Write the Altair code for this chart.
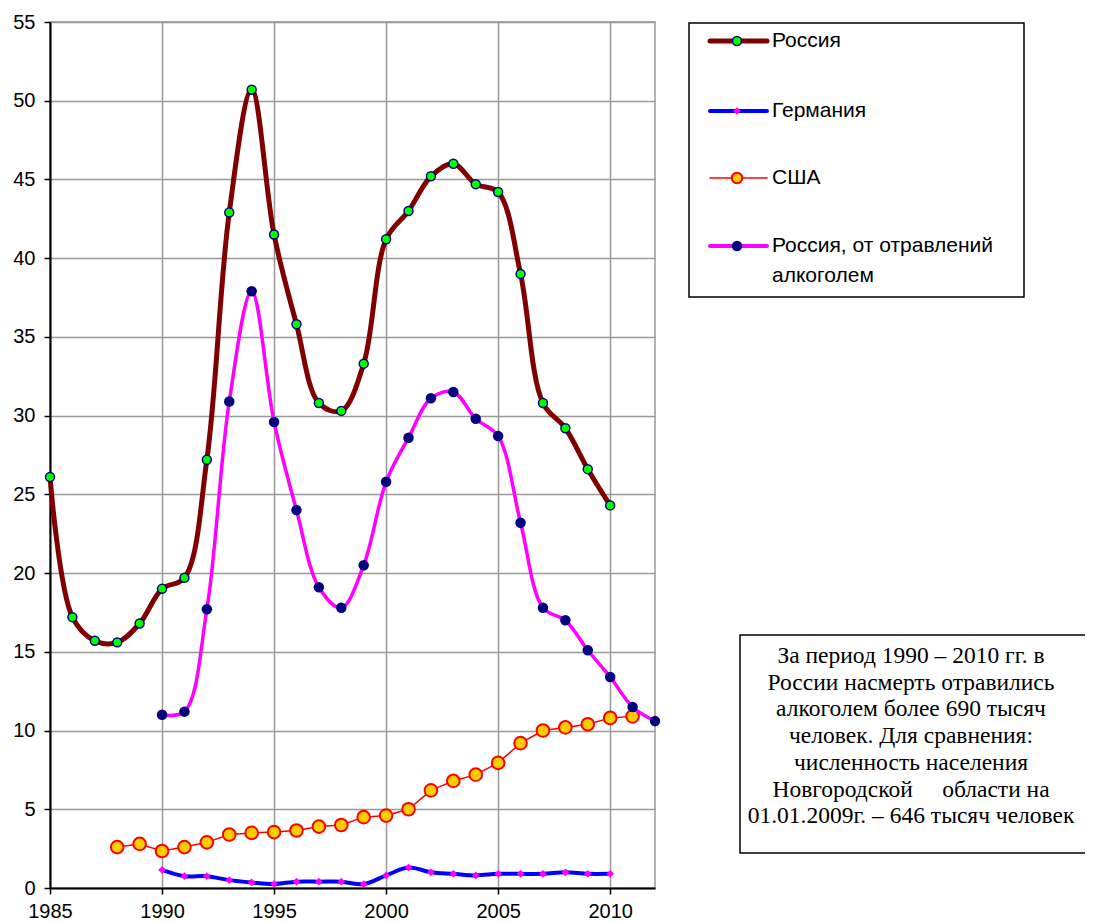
import altair as alt
import pandas as pd

# ---- data ----
russia_years = list(range(1985, 2011))
russia_vals = [26.1, 17.2, 15.7, 15.6, 16.8, 19.0, 19.7, 27.2, 42.9, 50.7,
               41.5, 35.8, 30.8, 30.3, 33.3, 41.2, 43.0, 45.2, 46.0, 44.7,
               44.2, 39.0, 30.8, 29.2, 26.6, 24.3]

germany_years = list(range(1990, 2011))
germany_vals = [1.15, 0.75, 0.75, 0.5, 0.35, 0.25, 0.4, 0.4, 0.4, 0.25,
                0.8, 1.3, 1.0, 0.9, 0.8, 0.9, 0.9, 0.9, 1.0, 0.9, 0.9]

usa_years = list(range(1988, 2012))
usa_vals = [2.6, 2.8, 2.35, 2.6, 2.9, 3.4, 3.5, 3.55, 3.65, 3.9, 4.0, 4.5,
            4.6, 5.0, 6.2, 6.8, 7.2, 7.95, 9.2, 10.0, 10.2, 10.4, 10.8, 10.9]

alco_years = list(range(1990, 2013))
alco_vals = [11.0, 11.2, 17.7, 30.9, 37.9, 29.6, 24.0, 19.1, 17.8, 20.5,
             25.8, 28.6, 31.1, 31.5, 29.8, 28.7, 23.2, 17.8, 17.0, 15.1,
             13.4, 11.5, 10.6]

x_ticks = [1985, 1990, 1995, 2000, 2005, 2010]
y_ticks = list(range(0, 56, 5))

legend_labels = ["Россия", "Германия", "США", "Россия, от отравлений", "алкоголем"]
note_lines = [
    "За период 1990 – 2010 гг. в",
    "России насмерть отравились",
    "алкоголем более 690 тысяч",
    "человек. Для сравнения:",
    "численность населения",
    "Новгородской\u00a0\u00a0\u00a0\u00a0 области на",
    "01.01.2009г. – 646 тысяч человек",
]

# ---- scales & axes ----
xs = alt.Scale(domain=[1985, 2012], nice=False, zero=False)
ys = alt.Scale(domain=[0, 55], nice=False)
xa = alt.Axis(values=x_ticks, format="d", title=None, labelFlush=False,
              labelPadding=7, grid=True)
ya = alt.Axis(values=y_ticks, title=None, labelPadding=9, grid=True)


def frame(years, vals):
    return pd.DataFrame({"year": years, "value": vals})


def enc(base):
    return base.encode(
        x=alt.X("year:Q", scale=xs, axis=xa),
        y=alt.Y("value:Q", scale=ys, axis=ya),
    )


russia_df = frame(russia_years, russia_vals)
germany_df = frame(germany_years, germany_vals)
usa_df = frame(usa_years, usa_vals)
alco_df = frame(alco_years, alco_vals)

russia_line = enc(alt.Chart(russia_df).mark_line(
    color="#800000", strokeWidth=5, interpolate="catmull-rom"))
russia_pts = enc(alt.Chart(russia_df).mark_point(
    shape="circle", filled=True, fill="#00FF00", stroke="#000080",
    strokeWidth=1.5, size=80, opacity=1))

germany_line = enc(alt.Chart(germany_df).mark_line(
    color="#0000FF", strokeWidth=4, interpolate="catmull-rom"))
germany_pts = enc(alt.Chart(germany_df).mark_point(
    shape="diamond", filled=True, fill="#FF00FF", size=60, opacity=1))

usa_line = enc(alt.Chart(usa_df).mark_line(color="#FF0000", strokeWidth=1.5))
usa_pts = enc(alt.Chart(usa_df).mark_point(
    shape="circle", filled=True, fill="#FFCC00", stroke="#FF0000",
    strokeWidth=2, size=160, opacity=1))

alco_line = enc(alt.Chart(alco_df).mark_line(
    color="#FF00FF", strokeWidth=3.5, interpolate="catmull-rom"))
alco_pts = enc(alt.Chart(alco_df).mark_point(
    shape="circle", filled=True, fill="#000080", size=110, opacity=1))

one = alt.Data(values=[{}])

# ---- legend (drawn by hand, outside the plot area) ----
LX0, LX1, LXM, LXT = 660, 717, 687, 722
LEG_FS = 21
legend_box = alt.Chart(one).mark_rect(
    fill="white", stroke="black", strokeWidth=1.5).encode(
    x=alt.value(639), x2=alt.value(974), y=alt.value(1), y2=alt.value(275))


def legend_row(ypix, line_color, line_width, point_kwargs, label):
    rule = alt.Chart(one).mark_rule(color=line_color, strokeWidth=line_width,
                                    strokeCap="round").encode(
        x=alt.value(LX0), x2=alt.value(LX1), y=alt.value(ypix))
    pt = alt.Chart(one).mark_point(filled=True, opacity=1, **point_kwargs).encode(
        x=alt.value(LXM), y=alt.value(ypix))
    txt = alt.Chart(one).mark_text(
        text=label, align="left", baseline="middle", font="Liberation Sans",
        fontSize=LEG_FS, color="black").encode(x=alt.value(LXT), y=alt.value(ypix))
    return [rule, pt, txt]


legend_layers = [legend_box]
legend_layers += legend_row(19, "#800000", 5,
                            dict(shape="circle", fill="#00FF00", stroke="#000080",
                                 strokeWidth=1.5, size=80), legend_labels[0])
legend_layers += legend_row(89, "#0000FF", 4,
                            dict(shape="diamond", fill="#FF00FF", size=60),
                            legend_labels[1])
legend_layers += legend_row(156, "#FF0000", 1.5,
                            dict(shape="circle", fill="#FFCC00", stroke="#FF0000",
                                 strokeWidth=2, size=110), legend_labels[2])
legend_layers += legend_row(224, "#FF00FF", 4,
                            dict(shape="circle", fill="#000080", size=110),
                            legend_labels[3])
legend_layers.append(alt.Chart(one).mark_text(
    text=legend_labels[4], align="left", baseline="middle",
    font="Liberation Sans", fontSize=LEG_FS, color="black").encode(
    x=alt.value(LXT), y=alt.value(254)))

# ---- note box (its right side runs off the page, as in the reference) ----
note_box = alt.Chart(one).mark_rect(
    fill="white", stroke="black", strokeWidth=1.5).encode(
    x=alt.value(690), x2=alt.value(1060), y=alt.value(613), y2=alt.value(831))
note_layers = [note_box]
for i, line in enumerate(note_lines):
    note_layers.append(alt.Chart(one).mark_text(
        text=line, align="center", baseline="middle", font="Liberation Serif",
        fontSize=23.5, color="black").encode(
        x=alt.value(861), y=alt.value(634 + 26.7 * i)))

chart = alt.layer(
    russia_line, russia_pts,
    germany_line, germany_pts,
    usa_line, usa_pts,
    alco_line, alco_pts,
    *legend_layers, *note_layers,
).properties(
    width=605, height=866,
    autosize=alt.AutoSizeParams(type="none"),
    padding={"left": 42, "top": 14, "right": 430, "bottom": 33},
    background="white",
).configure_axis(
    domainColor="black", domainWidth=2,
    tickColor="black", tickWidth=1.5, tickSize=6,
    gridColor="#999999", gridWidth=1.5, gridOpacity=1,
    labelFont="Liberation Sans", labelFontSize=20, labelColor="black",
).configure_view(stroke="#999999", strokeWidth=1.5)

chart.save("out.html", embed_options={"renderer": "svg", "actions": False})
